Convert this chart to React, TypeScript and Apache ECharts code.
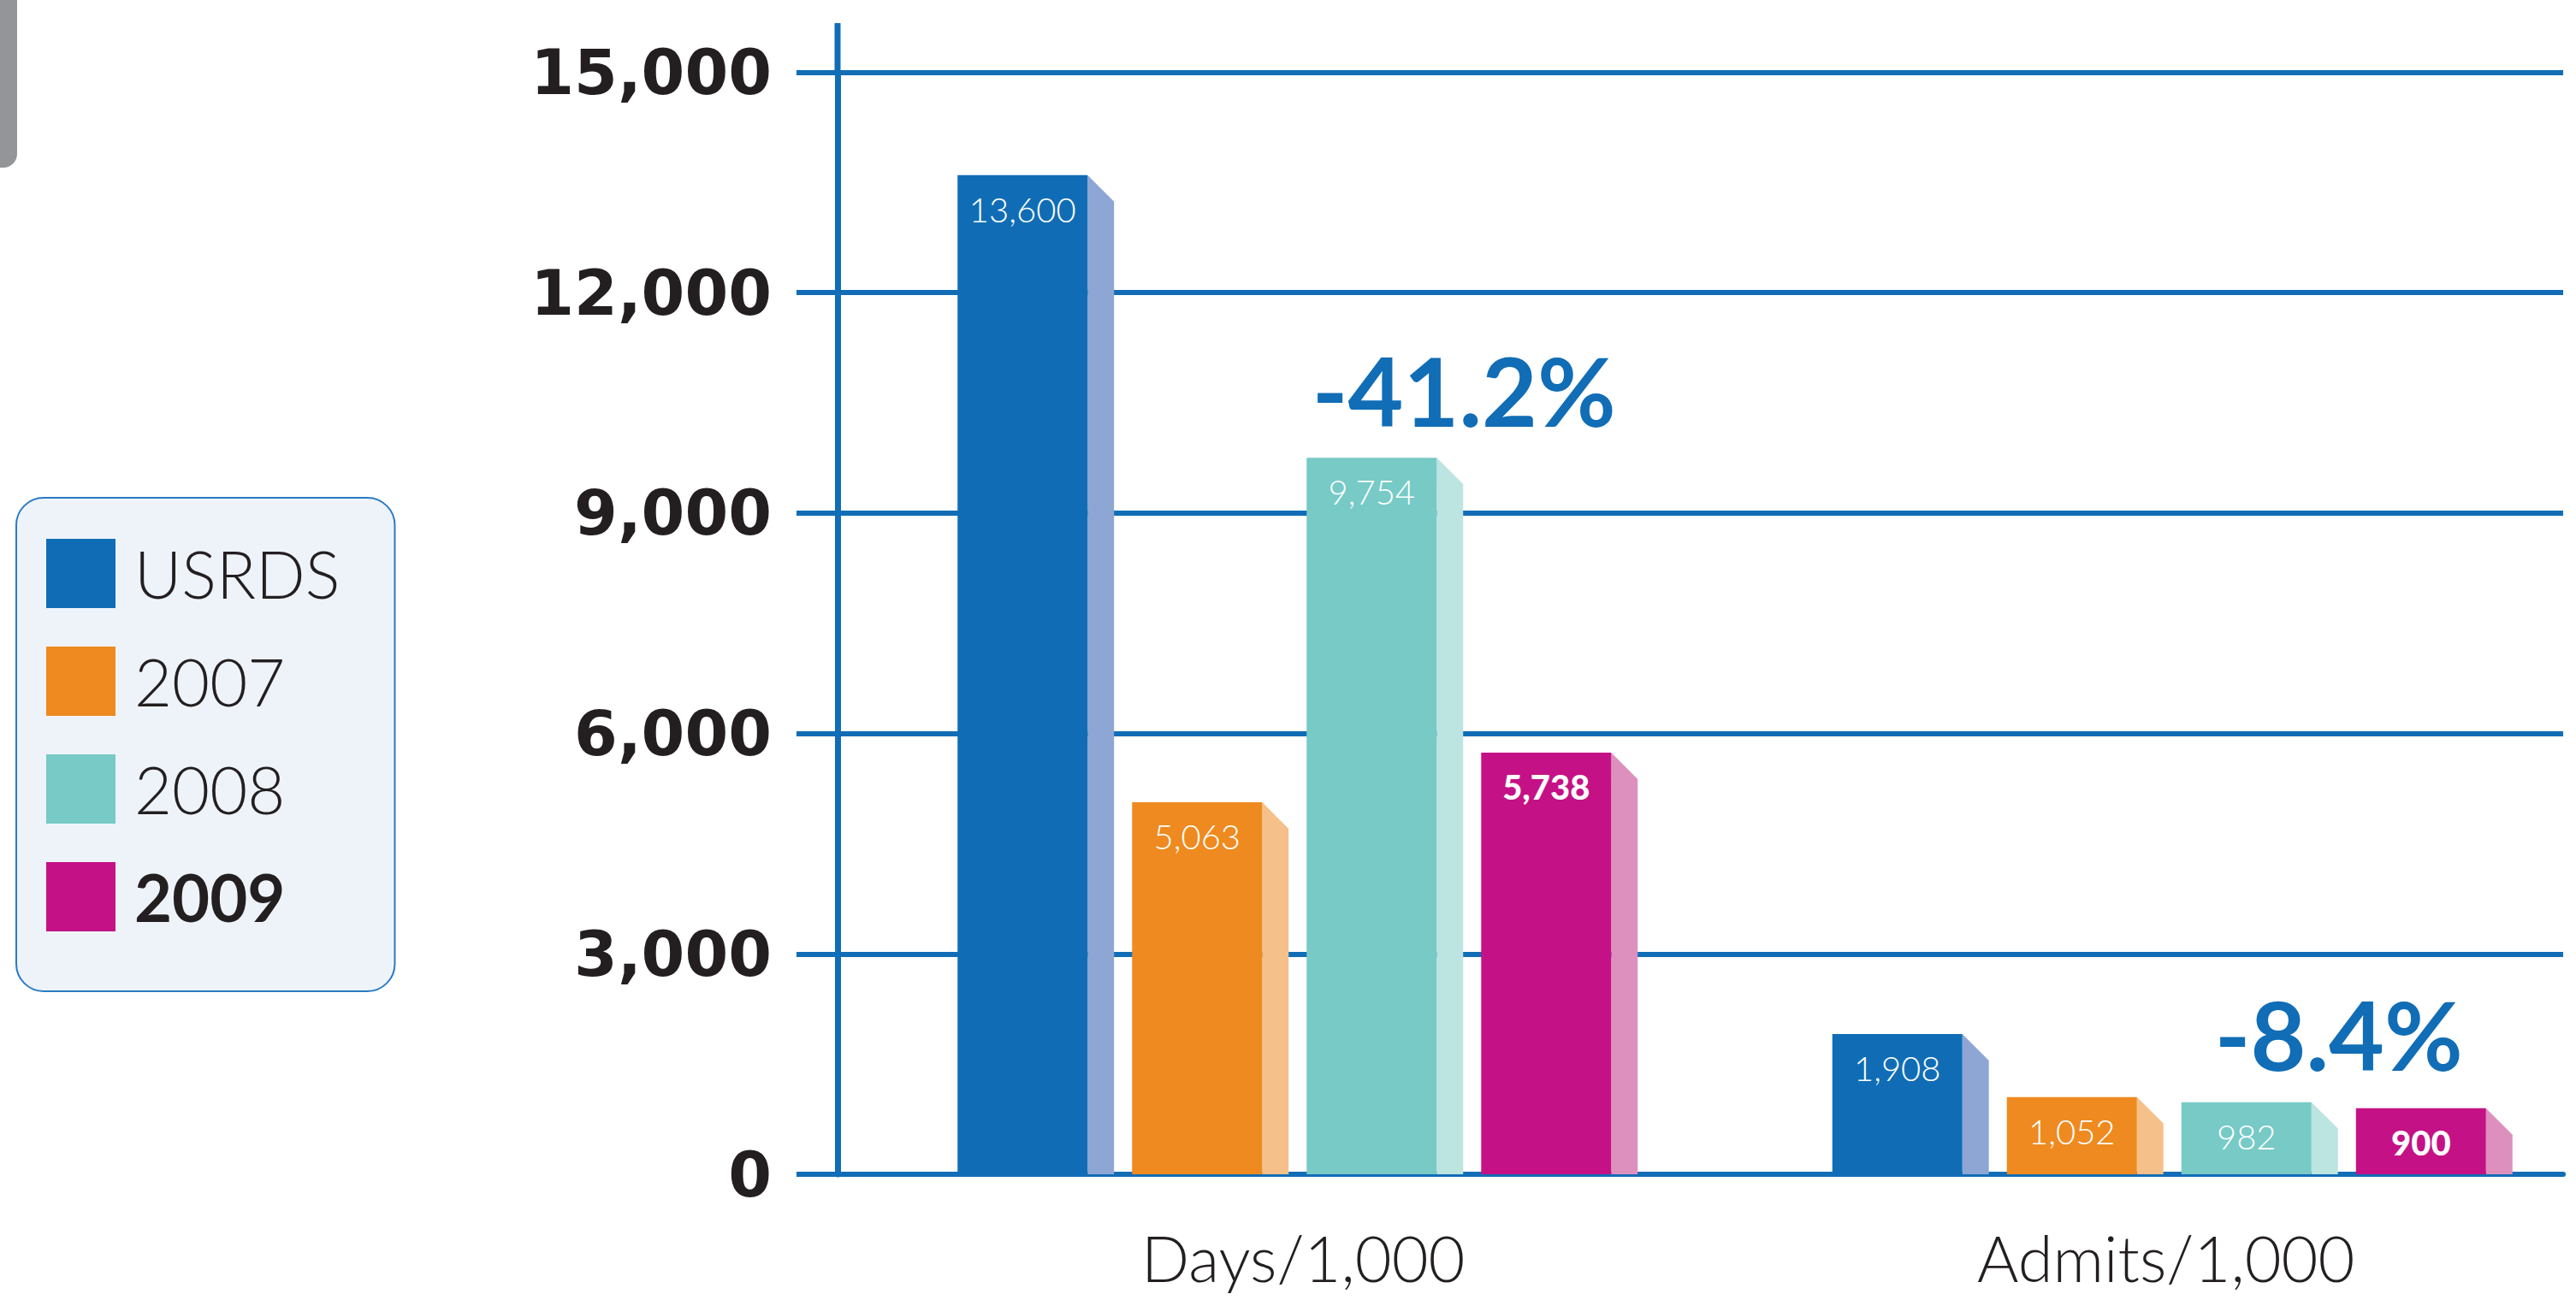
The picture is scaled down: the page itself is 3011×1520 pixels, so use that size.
import React, { useEffect, useRef } from "react";
import * as echarts from "echarts";

const categories = ["Days/1,000", "Admits/1,000"];
const seriesNames = ["USRDS", "2007", "2008", "2009"];
const usrdsValues = [13600, 1908];
const values2007 = [5063, 1052];
const values2008 = [9754, 982];
const values2009 = [5738, 900];
const changeLabels = ["-41.2%", "-8.4%"];
const yMin = 0;
const yMax = 15000;
const yInterval = 3000;

const BLUE = "#116db6";
const TEXT = "#231f20";
const frontColors = ["#106db5", "#ee8a1f", "#77cac6", "#c51186"];
const sideColors = ["#8ea6d4", "#f6c08a", "#bce4e1", "#dd90bd"];

const allValues = [usrdsValues, values2007, values2008, values2009];

const fmt = (v: number) => Number(v).toLocaleString("en-US");

function barLeft(center: number, band: number, c: number, i: number) {
  return center + band * (-0.354 + i * 0.2023) + (c - 0.5) * 14;
}

function makeBarSeries(i: number) {
  return {
    type: "custom",
    name: seriesNames[i],
    itemStyle: { color: frontColors[i] },
    data: allValues[i].map((v, c) => [c, v]),
    z: 3,
    renderItem: (params: any, api: any) => {
      const c = api.value(0);
      const v = api.value(1);
      const top = api.coord([c, v]);
      const base = api.coord([c, 0]);
      const band = api.size([1, 0])[0];
      const fw = band * 0.1507;
      const sw = band * 0.0307;
      const left = barLeft(top[0], band, c, i);
      const right = left + fw;
      return {
        type: "group",
        children: [
          {
            type: "polygon",
            shape: {
              points: [
                [right, top[1]],
                [right + sw, top[1] + sw],
                [right + sw, base[1]],
                [right, base[1]],
              ],
            },
            style: { fill: sideColors[i] },
          },
          {
            type: "rect",
            shape: { x: left, y: top[1], width: fw, height: base[1] - top[1] },
            style: { fill: frontColors[i] },
          },
          {
            type: "text",
            x: left + fw / 2,
            y: top[1] + 40,
            style: {
              text: fmt(v),
              fill: "#ffffff",
              fontSize: 40,
              fontFamily: "Lato",
              fontWeight: i === 3 ? 900 : 300,
              align: "center",
              verticalAlign: "middle",
            },
          },
        ],
      };
    },
  };
}

export default function App() {
  const ref = useRef<HTMLDivElement>(null);
  useEffect(() => {
    document.body.style.margin = "0";
    if (!ref.current) return;
    const chart = echarts.init(ref.current, null, { renderer: "svg" });
    const changeSeries = {
      type: "custom",
      name: "change",
      z: 4,
      data: values2008.map((v, c) => [c, v]),
      renderItem: (params: any, api: any) => {
        const c = api.value(0);
        const v = api.value(1);
        const top = api.coord([c, v]);
        const band = api.size([1, 0])[0];
        const left = barLeft(top[0], band, c, 2);
        const cx = left + (band * 0.1507) / 2 + 108;
        return {
          type: "text",
          x: cx,
          y: top[1] - 80,
          style: {
            text: changeLabels[params.dataIndex],
            fill: BLUE,
            fontSize: 112,
            fontFamily: "Lato",
            fontWeight: "bold",
            align: "center",
            verticalAlign: "middle",
          },
        };
      },
    };
    chart.setOption({
      animation: false,
      color: frontColors,
      grid: { left: 979, right: 15, top: 84.5, bottom: 147, containLabel: false },
      legend: {
        orient: "vertical",
        left: 19,
        top: 582,
        icon: "rect",
        itemWidth: 81,
        itemHeight: 81,
        itemGap: 45,
        selectedMode: false,
        padding: [48, 64, 70, 35],
        backgroundColor: "#eef3fa",
        borderColor: "#2a7bc4",
        borderWidth: 2,
        borderRadius: 32,
        textStyle: {
          fontSize: 76,
          fontFamily: "Lato",
          fontWeight: 300,
          color: TEXT,
          padding: [0, 0, 0, 17],
        },
        data: [
          { name: "USRDS" },
          { name: "2007" },
          { name: "2008" },
          { name: "2009", textStyle: { fontWeight: "bold" } },
        ],
      },
      xAxis: {
        type: "category",
        data: categories,
        axisLine: { show: true, lineStyle: { color: BLUE, width: 6 } },
        axisTick: { show: false },
        splitLine: { show: false },
        axisLabel: {
          fontSize: 74,
          fontFamily: "Lato",
          fontWeight: 300,
          color: TEXT,
          margin: 60,
          padding: [0, 0, 0, 80],
        },
      },
      yAxis: {
        type: "value",
        min: yMin,
        max: yMax,
        interval: yInterval,
        axisLine: { show: true, lineStyle: { color: BLUE, width: 7 } },
        axisTick: { show: true, length: 48, lineStyle: { color: BLUE, width: 6 } },
        splitLine: { show: true, lineStyle: { color: BLUE, width: 6 } },
        axisLabel: {
          formatter: (v: number) => fmt(v),
          fontSize: 73,
          fontFamily: "DejaVu Sans",
          fontWeight: "bold",
          color: TEXT,
          margin: 77,
        },
      },
      graphic: [
        {
          type: "line",
          shape: { x1: 979, y1: 27, x2: 979, y2: 88 },
          style: { stroke: BLUE, lineWidth: 7 },
        },
        {
          type: "rect",
          shape: { x: -30, y: -30, width: 50, height: 226, r: 16 },
          style: { fill: "#939598" },
        },
      ],
      series: [0, 1, 2, 3].map(makeBarSeries).concat([changeSeries as any]),
    });
    return () => chart.dispose();
  }, []);
  return <div ref={ref} style={{ width: 3011, height: 1520 }} />;
}
